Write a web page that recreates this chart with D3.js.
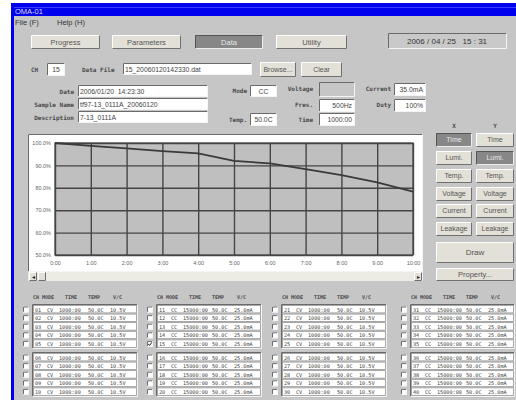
<!DOCTYPE html>
<html><head><meta charset="utf-8">
<script src="https://cdn.jsdelivr.net/npm/d3@7"></script>
<style>body{margin:0;background:#fff}svg{display:block}text{white-space:pre}</style>
</head><body><svg id="c" width="516" height="400"></svg>
<script>
// ---- chart data ----
const timeHours = [0,1,2,3,4,5,6,7,8,9,10];
const timeLabels = ["0:00","1:00","2:00","3:00","4:00","5:00","6:00","7:00","8:00","9:00","10:00"];
const lumiValues = [100,98.7,97.6,96.4,95.4,92.0,90.9,88.3,85.7,82.4,78.3];
const yTicks = [50,60,70,80,90,100];
const yTickLabels = ["50.0%","60.0%","70.0%","80.0%","90.0%","100.0%"];
// ---- UI texts ----
const navButtons = ["Progress","Parameters","Data","Utility"];
const axisButtons = ["Time","Lumi.","Temp.","Voltage","Current","Leakage"];
const channelCols = [
  {chs:["01","02","03","04","05","06","07","08","09","10"], mode:"CV", time:"1000:00", temp:"50.0C", vc:"10.5V"},
  {chs:["11","12","13","14","15","16","17","18","19","20"], mode:"CC", time:"15000:00", temp:"50.0C", vc:"25.0mA"},
  {chs:["21","22","23","24","25","26","27","28","29","30"], mode:"CV", time:"1000:00", temp:"50.0C", vc:"10.5V"},
  {chs:["31","32","33","34","35","36","37","38","39","40"], mode:"CC", time:"15000:00", temp:"50.0C", vc:"25.0mA"}
];
const checkedChannel = "15";

const svg = d3.select("#c");
const BG = "#c6c6c6", FACE = "#e3e0d8", DARK = "#878787";
const sans = "Liberation Sans, Arial, sans-serif";
const mono = "DejaVu Sans Mono, monospace";

svg.append("rect").attr("width",516).attr("height",400).attr("fill","#fff");
// window frame
svg.append("rect").attr("x",11).attr("y",3).attr("width",505).attr("height",397).attr("fill","#0000ee");
svg.append("rect").attr("x",14).attr("y",16).attr("width",502).attr("height",384).attr("fill",BG);
svg.append("rect").attr("x",14).attr("y",7).attr("width",502).attr("height",1).attr("fill","#3c3cff");
svg.append("text").attr("x",15).attr("y",14).attr("font-family",sans).attr("font-size",7.5).attr("fill","#dde").text("OMA-01");
svg.append("text").attr("x",15).attr("y",25).attr("font-family",sans).attr("font-size",7.5).attr("fill","#333").text("File (F)");
svg.append("text").attr("x",57).attr("y",25).attr("font-family",sans).attr("font-size",7.5).attr("fill","#333").text("Help (H)");

function raised(x,y,w,h,fill,pressed){
  const g = svg.append("g");
  g.append("rect").attr("x",x).attr("y",y).attr("width",w).attr("height",h).attr("fill",fill||FACE);
  const tl = pressed ? "#555" : "#fff", br = pressed ? "#eee" : "#707070";
  g.append("path").attr("d",`M${x+0.5},${y+h-0.5}V${y+0.5}H${x+w-0.5}`).attr("stroke",tl).attr("fill","none");
  g.append("path").attr("d",`M${x+0.5},${y+h-0.5}H${x+w-0.5}V${y+0.5}`).attr("stroke",br).attr("fill","none");
  return g;
}
function sunken(x,y,w,h,fill){
  const g = svg.append("g");
  g.append("rect").attr("x",x).attr("y",y).attr("width",w).attr("height",h).attr("fill",fill||"#fff");
  g.append("path").attr("d",`M${x+0.5},${y+h-0.5}V${y+0.5}H${x+w-0.5}`).attr("stroke","#6a6a6a").attr("fill","none");
  g.append("path").attr("d",`M${x+0.5},${y+h-0.5}H${x+w-0.5}V${y+0.5}`).attr("stroke","#f4f4f4").attr("fill","none");
  return g;
}
function label(x,y,t,anchor,size,font,weight,color){
  svg.append("text").attr("x",x).attr("y",y).attr("text-anchor",anchor||"start")
    .attr("font-family",font||mono).attr("font-size",size||6).attr("font-weight",weight||"bold")
    .attr("fill",color||"#4a4a4a").text(t);
}
function button(x,y,w,h,t,pressed,size){
  raised(x,y,w,h,pressed?DARK:FACE,pressed);
  label(x+w/2,y+h/2+(size||7.5)*0.35,t,"middle",size||7.5,sans,"normal",pressed?"#e8e8e8":"#555");
}
function field(x,y,w,h,t,anchor,fill){
  sunken(x,y,w,h,fill);
  if(t){
    const tx = anchor==="end" ? x+w-3 : anchor==="middle" ? x+w/2 : x+2;
    label(tx,y+h/2+2.5,t,anchor||"start",6.8,sans,"normal","#444");
  }
}

// nav buttons
const navX = [31,112,195,276], navW = [69,69,68,71];
navButtons.forEach((b,i)=>button(navX[i],35,navW[i],14,b,b==="Data"));
sunken(388,33,119,16,"#c9c9c9");
label(447,44,"2006 / 04 / 25   15 : 31","middle",8,sans,"normal","#333");

// parameter fields
label(31,72,"CH");
field(47,63,18,13,"15","middle");
label(82,72,"Data File");
field(123,63,129,12,"15_20060120142330.dat");
button(260,62,36,15,"Browse...",false,7);
button(301,62,41,15,"Clear",false,7);
label(74,94,"Date","end");       field(78,85,130,12,"2006/01/20  14:23:30");
label(74,107,"Sample Name","end"); field(78,98,130,12,"tf97-13_0111A_20060120");
label(74,120,"Description","end"); field(78,111,130,12,"7-13_0111A");
label(247,93,"Mode","end");      field(250,85,27,12,"CC","middle");
label(313,91,"Voltage","end");   field(319,82,36,15,"",null,"#c6c6c6");
label(391,91,"Current","end");   field(394,83,32,13,"35.0mA","end");
label(313,107,"Fres.","end");    field(319,99,36,13,"500Hz","end");
label(391,107,"Duty","end");     field(394,99,32,13,"100%","end");
label(247,122,"Temp.","end");    field(250,113,27,13,"50.0C","middle");
label(313,122,"Time","end");     field(319,113,36,13,"1000:00","end");

// chart panel
sunken(28,134,395,138,"#fff");
const m = {l:55, r:413, t:143, b:255};
const x = d3.scaleLinear().domain([0,10]).range([m.l,m.r]);
const y = d3.scaleLinear().domain([50,100]).range([m.b,m.t]);
svg.append("rect").attr("x",m.l).attr("y",m.t).attr("width",m.r-m.l).attr("height",m.b-m.t).attr("fill","#bfbfbf");
const gx = svg.append("g").attr("transform",`translate(0,${m.b})`)
  .call(d3.axisBottom(x).tickValues(timeHours).tickFormat((d,i)=>timeLabels[i]).tickSize(-(m.b-m.t)).tickPadding(6));
const gy = svg.append("g").attr("transform",`translate(${m.l},0)`)
  .call(d3.axisLeft(y).tickValues(yTicks).tickFormat((d,i)=>yTickLabels[i]).tickSize(-(m.r-m.l)).tickPadding(4));
[gx,gy].forEach(g=>{
  g.select(".domain").remove();
  g.selectAll("line").attr("stroke","#454545").attr("stroke-width",1.4);
  g.selectAll("text").attr("font-family",sans).attr("font-size",5.5).attr("fill","#666");
});
svg.append("rect").attr("x",m.l).attr("y",m.t).attr("width",m.r-m.l).attr("height",m.b-m.t)
  .attr("fill","none").attr("stroke","#454545").attr("stroke-width",1.2);
svg.append("path").datum(timeHours.map((h,i)=>[h,lumiValues[i]]))
  .attr("d",d3.line().x(d=>x(d[0])).y(d=>y(d[1])))
  .attr("fill","none").attr("stroke","#3a3a3a").attr("stroke-width",1.8);

// scrollbar
svg.append("rect").attr("x",28).attr("y",272).attr("width",395).attr("height",9).attr("fill","#ecebe4");
raised(29,272,8,9,FACE); label(33,279,"◂","middle",6,sans,"normal","#222");
raised(38,272,8,9,FACE);
raised(414,272,8,9,FACE); label(418,279,"▸","middle",6,sans,"normal","#222");

// axis selection buttons
label(454,128,"X","middle",6);
label(495,128,"Y","middle",6);
const rowY = [133,151,169,187,204,222];
axisButtons.forEach((b,i)=>{
  button(436,rowY[i],36,14,b,i===0,7);
  button(476,rowY[i],38,14,b,i===1,7);
});
button(436,242,78,21,"Draw",false,8);
button(436,268,78,13,"Property...",false,7.5);

// channel tables
const colX = [32,156,281,410];
const rowH = 8.6;
channelCols.forEach((c,ci)=>{
  const bx = colX[ci], bw = ci===3 ? 105 : 106;
  label(bx+1,299,"CH MODE",null,5);
  label(bx+33,299,"TIME",null,5);
  label(bx+56,299,"TEMP",null,5);
  label(bx+81,299,"V/C",null,5);
  [0,1].forEach(gi=>{
    const gy0 = gi===0 ? 304 : 352;
    sunken(bx,gy0,bw,45,"#d4d4d4");
    for(let r=0;r<5;r++){
      const idx = gi*5+r, ry = gy0+1.5+r*rowH;
      svg.append("rect").attr("x",bx+1.5).attr("y",ry).attr("width",bw-3).attr("height",rowH-1.2)
        .attr("fill","#fff").attr("stroke","#8a8a8a").attr("stroke-width",0.7);
      const ty = ry+rowH-2.6;
      const fs = 5.2;
      label(bx+3,ty,c.chs[idx],null,fs,mono,"normal","#444");
      label(bx+15,ty,c.mode,null,fs,mono,"normal","#444");
      label(bx+27,ty,c.time,null,fs,mono,"normal","#444");
      label(bx+56,ty,c.temp,null,fs,mono,"normal","#444");
      label(bx+78,ty,c.vc,null,fs,mono,"normal","#444");
      const cx = bx-9, cy = ry+1;
      sunken(cx,cy,6,6,"#fff");
      if(c.chs[idx]===checkedChannel){
        svg.append("path").attr("d",`M${cx+1.3},${cy+3} L${cx+2.6},${cy+4.6} L${cx+4.8},${cy+1.4}`)
          .attr("stroke","#222").attr("stroke-width",1).attr("fill","none");
      }
    }
  });
});
</script></body></html>
